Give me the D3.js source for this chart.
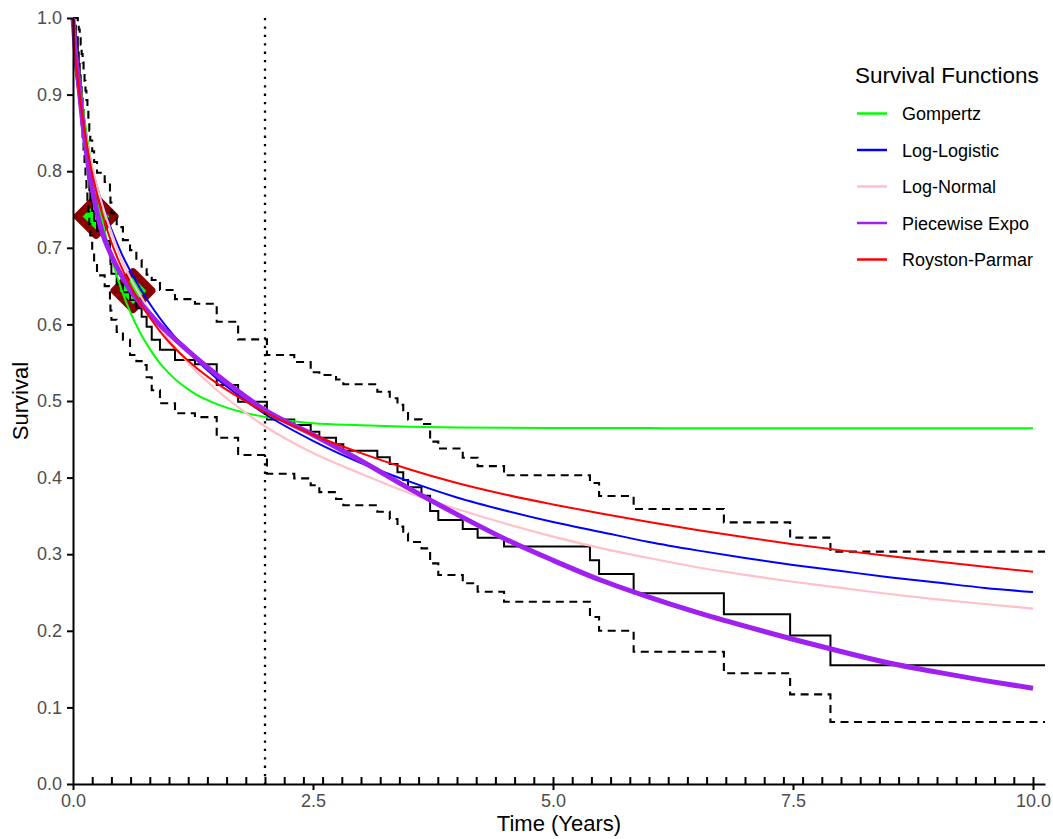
<!DOCTYPE html>
<html>
<head>
<meta charset="utf-8">
<script src="https://cdn.jsdelivr.net/npm/d3@7"></script>
<style>
  body { margin: 0; background: #ffffff; }
  svg { display: block; font-family: "Liberation Sans", Arial, Helvetica, sans-serif; }
</style>
</head>
<body>
<svg id="chart" width="1053" height="839"></svg>
<script>
// Kaplan-Meier estimate with 95% confidence limits (step function)
const kmTime  = [0, 0.01, 0.03, 0.05, 0.06, 0.07, 0.08, 0.09, 0.10, 0.11, 0.12, 0.13, 0.14, 0.15, 0.16, 0.17, 0.18,
                 0.20, 0.22, 0.25, 0.33, 0.385, 0.39, 0.40, 0.455, 0.52, 0.594, 0.66, 0.715, 0.767, 0.82, 0.906,
                 1.0625, 1.27, 1.497, 1.72, 2.02, 2.305, 2.476, 2.566, 2.74, 2.816, 3.17, 3.30, 3.38, 3.44, 3.49,
                 3.63, 3.72, 3.805, 4.06, 4.215, 4.49, 5.385, 5.48, 5.84, 6.78, 7.47, 7.89];
const kmSurv  = [1, 0.99, 0.975, 0.955, 0.94, 0.925, 0.91, 0.895, 0.88, 0.865, 0.85, 0.835, 0.82, 0.805, 0.79, 0.775, 0.762,
                 0.748, 0.735, 0.722, 0.709, 0.692, 0.679, 0.666, 0.653, 0.642, 0.632, 0.621, 0.61, 0.597, 0.58, 0.567,
                 0.5535, 0.548, 0.521, 0.499, 0.476, 0.4687, 0.46, 0.452, 0.4434, 0.435, 0.4265, 0.4178, 0.4069, 0.397, 0.3873,
                 0.3764, 0.3564, 0.3446, 0.333, 0.3216, 0.310, 0.292, 0.274, 0.249, 0.2215, 0.194, 0.155];
const kmUpper = [1, 1, 1, 0.995, 0.985, 0.975, 0.965, 0.953, 0.942, 0.93, 0.918, 0.905, 0.893, 0.88, 0.866, 0.853, 0.84,
                 0.826, 0.812, 0.798, 0.786, 0.772, 0.759, 0.745, 0.727, 0.71, 0.697, 0.684, 0.672, 0.665, 0.658, 0.645,
                 0.633, 0.627, 0.6035, 0.5805, 0.56, 0.551, 0.5375, 0.534, 0.528, 0.5218, 0.512, 0.5035, 0.495, 0.486, 0.476,
                 0.47, 0.447, 0.438, 0.426, 0.415, 0.403, 0.393, 0.376, 0.359, 0.3416, 0.3216, 0.3033];
const kmLower = [1, 0.97, 0.95, 0.925, 0.908, 0.891, 0.875, 0.858, 0.842, 0.826, 0.81, 0.794, 0.778, 0.762, 0.747, 0.731, 0.716,
                 0.695, 0.68, 0.664, 0.65, 0.632, 0.618, 0.606, 0.59, 0.58, 0.56, 0.552, 0.547, 0.531, 0.514, 0.497,
                 0.484, 0.479, 0.452, 0.4295, 0.405, 0.399, 0.39, 0.381, 0.372, 0.364, 0.3555, 0.346, 0.336, 0.327, 0.316,
                 0.3076, 0.288, 0.2728, 0.262, 0.251, 0.238, 0.218, 0.200, 0.1727, 0.1445, 0.117, 0.081];
const kmEnd = 10.125;

// Fitted parametric survival curves, evaluated on a common time grid
const fitTimes   = [0, 0.02, 0.05, 0.1, 0.15, 0.2, 0.25, 0.3, 0.4, 0.5, 0.6, 0.7, 0.8, 0.9, 1.0, 1.25, 1.5, 1.75, 2.0,
                    2.5, 3.0, 3.5, 4.0, 4.5, 5.0, 5.5, 6.0, 6.5, 7.0, 7.5, 8.0, 8.5, 9.0, 9.5, 10.0];
const gompertz   = [1, 0.975, 0.94, 0.888, 0.842, 0.803, 0.769, 0.739, 0.687, 0.647, 0.615, 0.589, 0.568, 0.55, 0.536, 0.511, 0.496, 0.486, 0.479,
                    0.471, 0.4685, 0.4665, 0.4655, 0.465, 0.4648, 0.4647, 0.4646, 0.4645, 0.4645, 0.4645, 0.4645, 0.4645, 0.4645, 0.4645, 0.4645];
const logLogistic= [1, 0.947, 0.909, 0.864, 0.831, 0.803, 0.78, 0.759, 0.724, 0.694, 0.669, 0.647, 0.627, 0.609, 0.593, 0.558, 0.529, 0.505, 0.483,
                    0.448, 0.419, 0.395, 0.374, 0.357, 0.342, 0.329, 0.316, 0.305, 0.295, 0.286, 0.278, 0.270, 0.263, 0.256, 0.2505];
const logNormal  = [1, 0.965, 0.925, 0.875, 0.835, 0.805, 0.78, 0.758, 0.72, 0.686, 0.66, 0.638, 0.617, 0.597, 0.58, 0.543, 0.514, 0.489, 0.467,
                    0.432, 0.405, 0.38, 0.359, 0.34, 0.323, 0.308, 0.295, 0.283, 0.273, 0.264, 0.256, 0.248, 0.241, 0.235, 0.229];
const pwExpo     = [1, 0.965, 0.925, 0.865, 0.815, 0.777, 0.746, 0.722, 0.69, 0.665, 0.644, 0.628, 0.614, 0.6, 0.588, 0.56, 0.534, 0.51, 0.488,
                    0.456, 0.422, 0.386, 0.352, 0.32, 0.292, 0.266, 0.244, 0.224, 0.206, 0.189, 0.173, 0.158, 0.146, 0.135, 0.125];
const roystonP   = [1, 0.955, 0.92, 0.87, 0.83, 0.797, 0.77, 0.746, 0.707, 0.676, 0.65, 0.628, 0.609, 0.592, 0.577, 0.547, 0.523, 0.503, 0.485,
                    0.456, 0.432, 0.411, 0.393, 0.378, 0.365, 0.353, 0.342, 0.3315, 0.322, 0.313, 0.305, 0.2975, 0.2905, 0.2835, 0.277];

// Highlighted landmark points
const markTimes = [0.24, 0.625];
const markSurv  = [0.741, 0.644];

// Reference time (vertical dotted line)
const landmarkTime = 2;

// Axis ticks
const xTicks = [0, 2.5, 5, 7.5, 10];
const yTicks = [0, 0.1, 0.2, 0.3, 0.4, 0.5, 0.6, 0.7, 0.8, 0.9, 1.0];

const legendLabels = ["Gompertz", "Log-Logistic", "Log-Normal", "Piecewise Expo", "Royston-Parmar"];
const legendColors = ["#00ff00", "#0000ff", "#ffc0cb", "#a020f0", "#ff0000"];

const series = [
  { name: "Gompertz",       values: gompertz,    color: "#00ff00", width: 2 },
  { name: "Log-Logistic",   values: logLogistic, color: "#0000ff", width: 2 },
  { name: "Log-Normal",     values: logNormal,   color: "#ffc0cb", width: 2.2 },
  { name: "Piecewise Expo", values: pwExpo,      color: "#a020f0", width: 5 },
  { name: "Royston-Parmar", values: roystonP,    color: "#ff0000", width: 2 }
];

const svg = d3.select("#chart");
const x = d3.scaleLinear().domain([0, kmEnd]).range([73, 1045]);
const y = d3.scaleLinear().domain([0, 1]).range([784, 18]);

const plot = svg.append("g");

// Landmark markers (drawn beneath the curves)
plot.selectAll("path.mark")
  .data(markTimes.map((t, i) => ({ t, s: markSurv[i] })))
  .join("path")
  .attr("class", "mark")
  .attr("d", d3.symbol().type(d3.symbolSquare).size(700))
  .attr("transform", d => `translate(${x(d.t)},${y(d.s)}) rotate(45)`)
  .attr("fill", "#00ff00")
  .attr("stroke", "#8b0000")
  .attr("stroke-width", 7.5)
  .attr("stroke-linejoin", "round");

// KM step curves
const stepLine = d3.line().curve(d3.curveStepAfter).x(d => x(d[0])).y(d => y(d[1]));
function stepData(vals) {
  const pts = kmTime.map((t, i) => [t, vals[i]]);
  pts.push([kmEnd, vals[vals.length - 1]]);
  return pts;
}
[kmUpper, kmLower].forEach(vals => {
  plot.append("path")
    .attr("d", stepLine(stepData(vals)))
    .attr("fill", "none")
    .attr("stroke", "#000")
    .attr("stroke-width", 2.1)
    .attr("stroke-dasharray", "8 5.5");
});
plot.append("path")
  .attr("d", stepLine(stepData(kmSurv)))
  .attr("fill", "none")
  .attr("stroke", "#000")
  .attr("stroke-width", 2);

// Fitted curves
const fitLine = d3.line().curve(d3.curveMonotoneX).x((d, i) => x(fitTimes[i])).y(d => y(d));
series.forEach(s => {
  plot.append("path")
    .attr("d", fitLine(s.values))
    .attr("fill", "none")
    .attr("stroke", s.color)
    .attr("stroke-width", s.width)
    .attr("stroke-linejoin", "round");
});

// Vertical dotted reference line
plot.append("line")
  .attr("x1", x(landmarkTime)).attr("x2", x(landmarkTime))
  .attr("y1", y(1)).attr("y2", y(0))
  .attr("stroke", "#000")
  .attr("stroke-width", 2.3)
  .attr("stroke-dasharray", "2.3 6.1");

// Axes
const fmt = d3.format(".1f");
const xAxis = svg.append("g").attr("transform", `translate(0,${y(0)})`)
  .call(d3.axisBottom(x).tickValues(xTicks).tickFormat(fmt).tickSize(6).tickSizeOuter(0).tickPadding(4));
const minorTicks = d3.range(1, 51).map(k => k * 0.2);
const xMinor = svg.append("g").attr("transform", `translate(0,${y(0)})`)
  .call(d3.axisBottom(x).tickValues(minorTicks).tickFormat("").tickSize(-7).tickSizeOuter(0));
xMinor.select(".domain").remove();
const yAxis = svg.append("g").attr("transform", `translate(${x(0)},0)`)
  .call(d3.axisLeft(y).tickValues(yTicks).tickFormat(fmt).tickSize(6).tickSizeOuter(0).tickPadding(5));

[xAxis, yAxis, xMinor].forEach(g => {
  g.selectAll(".domain").attr("stroke", "#000").attr("stroke-width", 2);
  g.selectAll(".tick line").attr("stroke", "#000").attr("stroke-width", 2);
  g.selectAll(".tick text").attr("fill", "#4d4d4d").attr("font-size", 18)
    .attr("font-family", "'Liberation Sans', Arial, sans-serif");
});

// Axis titles
svg.append("text")
  .attr("x", (x.range()[0] + x.range()[1]) / 2).attr("y", 831)
  .attr("text-anchor", "middle").attr("font-size", 22).attr("fill", "#000")
  .text("Time (Years)");
svg.append("text")
  .attr("transform", `translate(28,${(y(0) + y(1)) / 2}) rotate(-90)`)
  .attr("text-anchor", "middle").attr("font-size", 22).attr("fill", "#000")
  .text("Survival");

// Legend
const legend = svg.append("g").attr("transform", "translate(855,0)");
legend.append("text").attr("x", 0).attr("y", 83).attr("font-size", 22.5).attr("fill", "#000")
  .text("Survival Functions");
const items = legend.selectAll("g.item")
  .data(legendLabels)
  .join("g")
  .attr("class", "item")
  .attr("transform", (d, i) => `translate(0,${113.5 + i * 36.5})`);
items.append("line")
  .attr("x1", 2).attr("x2", 32).attr("y1", 0).attr("y2", 0)
  .attr("stroke", (d, i) => legendColors[i]).attr("stroke-width", 2.5);
items.append("text")
  .attr("x", 47).attr("y", 6.5)
  .attr("font-size", 18).attr("fill", "#000")
  .text(d => d);
</script>
</body>
</html>
